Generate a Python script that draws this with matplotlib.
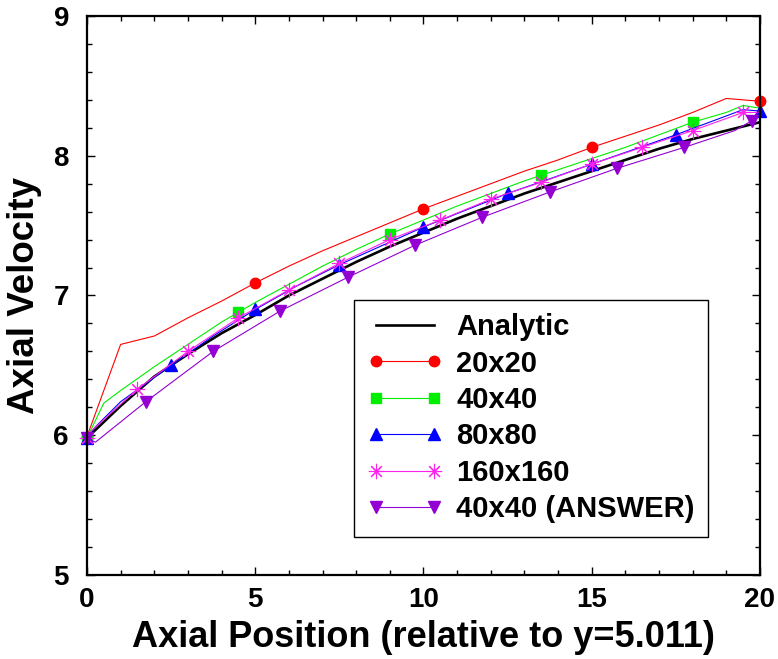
import numpy as np
import matplotlib
matplotlib.use('Agg')
import matplotlib.pyplot as plt
from matplotlib.ticker import MultipleLocator

# analytic solution
ana_x = list(range(21))
ana_y = [5.98, 6.21, 6.42, 6.58, 6.73, 6.86, 7.00, 7.12, 7.24, 7.35, 7.45,
         7.55, 7.64, 7.73, 7.81, 7.89, 7.97, 8.05, 8.12, 8.18, 8.24]

# 20x20
r20_x = list(range(21))
r20_y = [5.99, 6.65, 6.71, 6.84, 6.96, 7.09, 7.21, 7.32, 7.42, 7.52, 7.62,
         7.71, 7.80, 7.89, 7.97, 8.06, 8.14, 8.22, 8.31, 8.41, 8.39]
r20_mk = [0, 5, 10, 15, 20]

# 40x40
g40_x = [0, 0.5, 1, 2, 3, 4, 4.5, 5, 6, 7, 8, 9, 10, 11, 12, 13, 13.5, 14,
         15, 16, 17, 18, 19, 19.5, 20]
g40_y = [5.98, 6.23, 6.32, 6.49, 6.65, 6.81, 6.88, 6.95, 7.08, 7.21, 7.33,
         7.44, 7.54, 7.64, 7.73, 7.82, 7.86, 7.90, 7.98, 8.06, 8.15, 8.24,
         8.31, 8.36, 8.34]
g40_mk = [0, 4.5, 9, 13.5, 18]

# 80x80
b80_x = [0, 0.25, 1, 2.5, 3.75, 5, 6.25, 7.5, 10, 12.5, 15, 17.5, 19.5, 20]
b80_y = [5.98, 6.06, 6.24, 6.50, 6.71, 6.90, 7.07, 7.22, 7.49, 7.73, 7.94,
         8.15, 8.33, 8.32]
b80_mk = [0, 2.5, 5, 7.5, 10, 12.5, 15, 17.5, 20]

# 160x160
m160_x = [0, 0.125, 1.5, 3, 4.5, 6, 7.5, 9, 10.5, 12, 13.5, 15, 16.5, 18,
          19.5, 20]
m160_y = [5.98, 6.03, 6.33, 6.60, 6.84, 7.04, 7.23, 7.40, 7.54, 7.69, 7.81,
          7.94, 8.06, 8.18, 8.31, 8.31]
m160_mk = [0, 1.5, 3, 4.5, 6, 7.5, 9, 10.5, 12, 13.5, 15, 16.5, 18, 19.5]

# 40x40 (ANSWER)
p40_x = [0, 0.25, 1.75, 3.75, 5.75, 7.75, 9.75, 11.75, 13.75, 15.75, 17.75,
         19.25, 19.75, 20]
p40_y = [5.98, 5.95, 6.24, 6.60, 6.89, 7.13, 7.36, 7.56, 7.74, 7.91, 8.06,
         8.18, 8.25, 8.33]
p40_mk = [0, 1.75, 3.75, 5.75, 7.75, 9.75, 11.75, 13.75, 15.75, 17.75, 19.75]


def idx(xs, marks):
    return [xs.index(m) for m in marks]


def main():
    plt.rcParams['font.family'] = ['Liberation Sans', 'DejaVu Sans']
    plt.rcParams['font.weight'] = 'bold'

    fig = plt.figure(figsize=(7.78, 6.59), dpi=100)
    ax = fig.add_axes([0.1118, 0.1275, 0.865, 0.8482])

    ax.plot(ana_x, ana_y, color='black', lw=1.9, label='Analytic')
    ax.plot(r20_x, r20_y, color='#ff0000', lw=0.8, marker='o', ms=7.5,
            markevery=idx(r20_x, r20_mk), clip_on=False, label='20x20')
    ax.plot(g40_x, g40_y, color='#00ee00', lw=0.8, marker='s', ms=6.5,
            markevery=idx(g40_x, g40_mk), clip_on=False, label='40x40')
    ax.plot(b80_x, b80_y, color='#0000ff', lw=0.8, marker='^', ms=9,
            markevery=idx(b80_x, b80_mk), clip_on=False, label='80x80')
    ax.plot(m160_x, m160_y, color='#ff22ee', lw=0.8, marker=(8, 2, 0), ms=11,
            mew=0.8, markevery=idx(m160_x, m160_mk), clip_on=False,
            label='160x160')
    ax.plot(p40_x, p40_y, color='#9400d3', lw=0.8, marker='v', ms=9,
            markevery=idx(p40_x, p40_mk), clip_on=False,
            label='40x40 (ANSWER)')

    ax.set_xlim([0, 20])
    ax.set_ylim([5, 9])
    ax.xaxis.set_major_locator(MultipleLocator(5))
    ax.xaxis.set_minor_locator(MultipleLocator(1))
    ax.yaxis.set_major_locator(MultipleLocator(1))
    ax.yaxis.set_minor_locator(MultipleLocator(0.2))
    ax.tick_params(which='both', direction='in', top=True, right=True,
                   labelsize=20, width=1)
    ax.tick_params(which='major', length=6)
    ax.tick_params(which='minor', length=3.5)
    ax.tick_params(axis='x', which='major', pad=9)
    ax.tick_params(axis='y', which='major', pad=13)
    for s in ax.spines.values():
        s.set_linewidth(1.6)

    ax.set_xlabel('Axial Position (relative to y=5.011)', fontsize=26,
                  fontweight='bold', labelpad=5)
    ax.set_ylabel('Axial Velocity', fontsize=26.5, fontweight='bold',
                  labelpad=8)

    leg = ax.legend(loc='upper left', bbox_to_anchor=(0.397, 0.492),
                    borderaxespad=0, fontsize=21, numpoints=2,
                    handlelength=2.6, handletextpad=0.45, borderpad=0.45,
                    labelspacing=0.29, fancybox=False, framealpha=1)
    leg.get_frame().set_edgecolor('black')
    leg.get_frame().set_linewidth(1)

    plt.savefig('out.png')


if __name__ == '__main__':
    main()
